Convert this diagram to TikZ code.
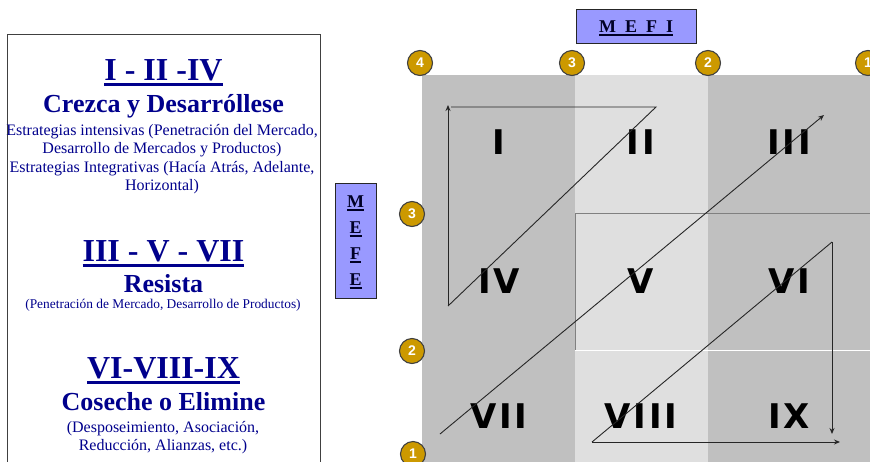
\documentclass[tikz,border=0pt]{standalone}
\usepackage{fontspec}
\setmainfont{Liberation Serif}
\newfontfamily\numfont{DejaVu Sans}[LetterSpace=8.0]
\newfontfamily\circfont{Liberation Sans}
\usetikzlibrary{arrows.meta}
\definecolor{navytext}{RGB}{0,0,140}
\definecolor{darkcell}{RGB}{192,192,192}
\definecolor{lightcell}{RGB}{223,223,223}
\definecolor{gold}{RGB}{204,153,0}
\definecolor{boxblue}{RGB}{153,153,255}
\newcommand{\myul}[3]{\setbox0=\hbox{#3}\leavevmode\rlap{\rule[-#1]{\wd0}{#2}}\box0}
\tikzset{
  roman/.style={font=\numfont\bfseries\fontsize{34}{34}\selectfont, text=black, inner sep=0pt},
  circ/.style={circle, fill=gold, draw=black!75, line width=1.1pt, minimum size=25pt, inner sep=0pt, text=white, font=\circfont\bfseries\fontsize{14}{14}\selectfont},
  head/.style={anchor=base, inner sep=0pt, text=navytext, font=\bfseries\fontsize{32}{36}\selectfont},
  sub/.style={anchor=base, inner sep=0pt, text=navytext, font=\bfseries\fontsize{26}{30}\selectfont},
  body/.style={anchor=base, inner sep=0pt, text=navytext, font=\fontsize{16}{18}\selectfont},
  small/.style={anchor=base, inner sep=0pt, text=navytext, font=\fontsize{13.4}{16}\selectfont},
  axislbl/.style={anchor=base, inner sep=0pt, text=black!85!blue, font=\bfseries\fontsize{18}{20}\selectfont},
  conn/.style={line width=0.9pt, draw=black!85},
  tip/.style={-{Stealth[length=6pt,width=5pt]}}
}
\begin{document}
\begin{tikzpicture}[x=1pt,y=-1pt]
\useasboundingbox (0,0) rectangle (870,461);
\begin{scope}
\clip (0,0) rectangle (870,461);
% grid columns
\fill[darkcell] (422,75) rectangle (575,480);
\fill[lightcell] (575,75) rectangle (708,480);
\fill[darkcell] (708,75) rectangle (900,480);
\draw[black!50, line width=1pt] (575,350) -- (575,213) -- (900,213);
\draw[white, line width=1pt] (575,350) -- (900,350);
% left box
\draw[black!75, line width=1pt] (7,34) rectangle (320,490);
% left texts
\node[head] (h1) at (163.5,80) {\myul{5.5pt}{2.3pt}{I - II -IV}};
\node[sub] (s1) at (163.5,112) {Crezca y Desarróllese};
\node[body] (b1) at (162,135) {Estrategias intensivas (Penetración del Mercado,};
\node[body] (b2) at (162,153.5) {Desarrollo de Mercados y Productos)};
\node[body] (b3) at (162,172) {Estrategias Integrativas (Hacía Atrás, Adelante,};
\node[body] (b4) at (162,190.5) {Horizontal)};
\node[head] (h2) at (163.5,261) {\myul{5.5pt}{2.3pt}{III - V - VII}};
\node[sub] (s2) at (163.5,292) {Resista};
\node[small] (b5) at (163,308) {(Penetración de Mercado, Desarrollo de Productos)};
\node[head] (h3) at (163.5,378) {\myul{5.5pt}{2.3pt}{VI-VIII-IX}};
\node[sub] (s3) at (163.5,410) {Coseche o Elimine};
\node[body] (b6) at (163,432) {(Desposeimiento, Asociación,};
\node[body] (b7) at (163,450.5) {Reducción, Alianzas, etc.)};
% axis label boxes
\draw[black!85, fill=boxblue, line width=1pt] (576,9) rectangle (696,43);
\node[axislbl] (mefi) at (636,32) {\myul{3.5pt}{1.6pt}{M\hspace{9pt}E\hspace{9pt}F\hspace{9pt}I}};
\draw[black!85, fill=boxblue, line width=1pt] (335,183) rectangle (376,298);
\node[axislbl] (m1) at (355.5,207) {\myul{3.5pt}{1.6pt}{M}};
\node[axislbl] (m2) at (355.5,233) {\myul{3.5pt}{1.6pt}{E}};
\node[axislbl] (m3) at (355.5,259) {\myul{3.5pt}{1.6pt}{F}};
\node[axislbl] (m4) at (355.5,285) {\myul{3.5pt}{1.6pt}{E}};
% roman numerals
\node[roman] (r1) at (499,142) {I};
\node[roman] (r2) at (641,142) {II};
\node[roman] (r3) at (789,142) {III};
\node[roman] (r4) at (499,281) {IV};
\node[roman] (r5) at (641,281) {V};
\node[roman] (r6) at (789,281) {VI};
\node[roman] (r7) at (499,416.5) {VII};
\node[roman] (r8) at (641,416.5) {VIII};
\node[roman] (r9) at (789,416.5) {IX};
% connectors
\coordinate (a1) at (448,306);
\coordinate (a2) at (656,107);
\coordinate (a3) at (451,107);
\coordinate (a4) at (448,105);
\draw[conn] (a1) -- (a2) -- (a3);
\draw[conn,tip] (a1) -- (a4);
\coordinate (c1) at (440,434);
\coordinate (c2) at (824,115);
\draw[conn,tip] (c1) -- (c2);
\coordinate (d1) at (592,442);
\coordinate (d2) at (832,242);
\coordinate (d3) at (832,434);
\coordinate (d4) at (840,442);
\draw[conn] (d1) -- (d2);
\draw[conn,tip] (d2) -- (d3);
\draw[conn,tip] (d1) -- (d4);
% number circles
\node[circ] (t4) at (420,63) {4};
\node[circ] (t3) at (572,63) {3};
\node[circ] (t2) at (708,63) {2};
\node[circ] (t1) at (868,63) {1};
\node[circ] (l3) at (412,214) {3};
\node[circ] (l2) at (412,351) {2};
\node[circ] (l1) at (413,454) {1};
\end{scope}
\end{tikzpicture}
\end{document}
